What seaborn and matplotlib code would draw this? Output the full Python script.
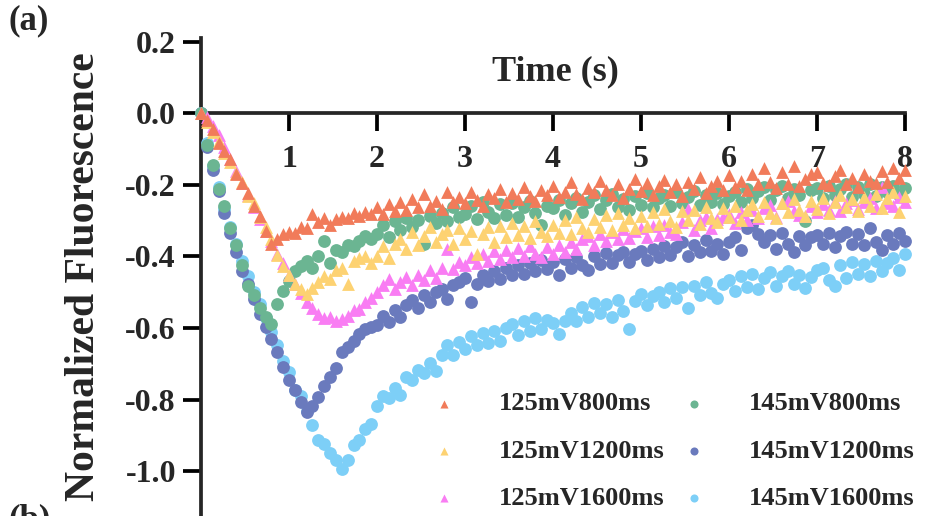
import numpy as np
import pandas as pd
import matplotlib
matplotlib.use("Agg")
import matplotlib.pyplot as plt
import seaborn as sns

# Sampling times (15 Hz over 8 s)
time_s = np.round(np.arange(121) / 15.0, 4)

# Normalized fluorescence traces
f_125_800 = [
    0.000, -0.020, -0.045, -0.082, -0.105, -0.128, -0.170, -0.196, -0.222, -0.258, -0.287, -0.330, -0.365,
    -0.352, -0.338, -0.331, -0.336, -0.318, -0.322, -0.281, -0.305, -0.292, -0.312, -0.296, -0.289, -0.294, -0.279, -0.286, -0.275, -0.281,
    -0.262, -0.281, -0.255, -0.274, -0.248, -0.271, -0.239, -0.262, -0.226, -0.258, -0.244, -0.268, -0.221, -0.249, -0.233,
    -0.251, -0.219, -0.242, -0.258, -0.227, -0.236, -0.212, -0.248, -0.224, -0.239, -0.205, -0.231, -0.246, -0.214, -0.228,
    -0.203, -0.234, -0.219, -0.192, -0.226, -0.241, -0.208, -0.221, -0.188, -0.215, -0.229, -0.197, -0.236, -0.211, -0.185,
    -0.218, -0.196, -0.229, -0.204, -0.187, -0.221, -0.199, -0.232, -0.193, -0.212, -0.178, -0.224, -0.203, -0.189, -0.215,
    -0.172, -0.206, -0.188, -0.214, -0.169, -0.197, -0.152, -0.191, -0.208, -0.165, -0.198, -0.148, -0.202, -0.184, -0.171,
    -0.163, -0.195, -0.201, -0.176, -0.158, -0.199, -0.182, -0.207, -0.169, -0.188, -0.196, -0.161, -0.192, -0.152, -0.181,
    -0.158,
]
f_125_1200 = [
    0.000, -0.025, -0.052, -0.078, -0.112, -0.135, -0.168, -0.192, -0.231, -0.252, -0.290, -0.318, -0.352, -0.395, -0.428, -0.452, -0.478, -0.492, -0.505,
    -0.488, -0.472, -0.455, -0.462, -0.438, -0.431, -0.476, -0.412, -0.405, -0.398, -0.419,
    -0.398, -0.372, -0.405, -0.366, -0.351, -0.379, -0.332, -0.368, -0.344, -0.319, -0.361, -0.337, -0.326, -0.364, -0.321,
    -0.352, -0.328, -0.392, -0.338, -0.319, -0.361, -0.315, -0.345, -0.308, -0.339, -0.316, -0.348, -0.302, -0.331, -0.343,
    -0.311, -0.335, -0.298, -0.338, -0.289, -0.321, -0.331, -0.296, -0.318, -0.285, -0.326, -0.279, -0.312, -0.294, -0.322,
    -0.286, -0.315, -0.276, -0.309, -0.268, -0.302, -0.318, -0.274, -0.298, -0.269, -0.309, -0.262, -0.292, -0.304, -0.266,
    -0.291, -0.258, -0.298, -0.269, -0.254, -0.288, -0.248, -0.279, -0.293, -0.251, -0.276, -0.239, -0.271, -0.286, -0.245,
    -0.268, -0.236, -0.278, -0.249, -0.229, -0.263, -0.241, -0.272, -0.233, -0.258, -0.227, -0.264, -0.238, -0.221, -0.276,
    -0.231,
]
f_125_1600 = [
    0.000, -0.012, -0.035, -0.062, -0.095, -0.128, -0.162, -0.195, -0.228, -0.262, -0.295, -0.328, -0.358, -0.392, -0.418, -0.452, -0.478, -0.502, -0.528, -0.545, -0.561, -0.572, -0.568, -0.579, -0.575,
    -0.566, -0.551, -0.547, -0.528, -0.515,
    -0.498, -0.481, -0.463, -0.492, -0.471, -0.458, -0.479, -0.451, -0.466, -0.438, -0.459, -0.431, -0.378, -0.436, -0.415,
    -0.425, -0.401, -0.418, -0.392, -0.413, -0.386, -0.407, -0.381, -0.402, -0.377, -0.398, -0.371, -0.392, -0.401, -0.375,
    -0.394, -0.368, -0.387, -0.359, -0.378, -0.352, -0.343, -0.367, -0.338, -0.358, -0.331, -0.352, -0.324, -0.348, -0.329,
    -0.321, -0.347, -0.315, -0.339, -0.311, -0.333, -0.337, -0.305, -0.268, -0.326, -0.298, -0.291, -0.321, -0.296, -0.289,
    -0.281, -0.306, -0.276, -0.298, -0.269, -0.293, -0.265, -0.256, -0.289, -0.251, -0.245, -0.272, -0.284, -0.288, -0.259,
    -0.276, -0.253, -0.269, -0.246, -0.273, -0.251, -0.243, -0.268, -0.249, -0.238, -0.266, -0.205, -0.252, -0.258, -0.233,
    -0.247,
]
f_145_800 = [
    0.000, -0.088, -0.146, -0.212, -0.258, -0.322, -0.368, -0.425, -0.482, -0.508, -0.545, -0.568, -0.590,
    -0.532, -0.497, -0.468, -0.442, -0.426, -0.412, -0.431, -0.398, -0.358, -0.418, -0.381, -0.389, -0.368, -0.372, -0.356, -0.342, -0.351,
    -0.338, -0.312, -0.345, -0.301, -0.326, -0.292, -0.319, -0.298, -0.364, -0.286, -0.307, -0.278, -0.301, -0.262, -0.289,
    -0.281, -0.258, -0.296, -0.249, -0.277, -0.294, -0.255, -0.283, -0.251, -0.289, -0.262, -0.245, -0.279, -0.312, -0.258,
    -0.266, -0.242, -0.283, -0.251, -0.236, -0.275, -0.248, -0.229, -0.268, -0.243, -0.227, -0.262, -0.239, -0.271, -0.231,
    -0.256, -0.224, -0.263, -0.238, -0.229, -0.259, -0.221, -0.252, -0.235, -0.218, -0.257, -0.229, -0.248, -0.222, -0.254,
    -0.231, -0.219, -0.248, -0.211, -0.238, -0.216, -0.206, -0.243, -0.214, -0.203, -0.236, -0.212, -0.229, -0.302, -0.215,
    -0.209, -0.236, -0.204, -0.229, -0.213, -0.198, -0.234, -0.207, -0.225, -0.199, -0.232, -0.206, -0.221, -0.203, -0.228,
    -0.209,
]
f_145_1200 = [
    0.000, -0.095, -0.158, -0.218, -0.278, -0.335, -0.388, -0.442, -0.478, -0.518, -0.562, -0.598, -0.632, -0.668, -0.708, -0.746, -0.772, -0.808, -0.835,
    -0.818, -0.792, -0.761, -0.738, -0.712, -0.668, -0.652, -0.636, -0.618, -0.604, -0.596,
    -0.592, -0.566, -0.584, -0.551, -0.569, -0.535, -0.522, -0.543, -0.508, -0.528, -0.499, -0.491, -0.518, -0.479, -0.472,
    -0.461, -0.526, -0.478, -0.451, -0.469, -0.441, -0.462, -0.432, -0.453, -0.425, -0.448, -0.418, -0.442, -0.411, -0.435,
    -0.415, -0.452, -0.408, -0.433, -0.401, -0.425, -0.438, -0.398, -0.421, -0.391, -0.418, -0.395, -0.388, -0.415, -0.392,
    -0.385, -0.411, -0.378, -0.403, -0.371, -0.396, -0.375, -0.361, -0.398, -0.368, -0.388, -0.355, -0.386, -0.364, -0.393,
    -0.361, -0.345, -0.381, -0.322, -0.312, -0.338, -0.359, -0.341, -0.378, -0.336, -0.365, -0.388, -0.342, -0.369, -0.347,
    -0.341, -0.366, -0.335, -0.373, -0.344, -0.331, -0.364, -0.338, -0.369, -0.322, -0.361, -0.381, -0.339, -0.365, -0.334,
    -0.358,
]
f_145_1600 = [
    0.000, -0.082, -0.148, -0.205, -0.268, -0.318, -0.365, -0.412, -0.455, -0.498, -0.532, -0.572, -0.612, -0.648, -0.691, -0.722, -0.772, -0.791, -0.832, -0.872, -0.912, -0.925, -0.948, -0.968, -0.995,
    -0.968, -0.928, -0.912, -0.882, -0.868,
    -0.818, -0.789, -0.796, -0.768, -0.788, -0.736, -0.744, -0.716, -0.726, -0.698, -0.719, -0.676, -0.648, -0.675, -0.638,
    -0.659, -0.621, -0.648, -0.615, -0.641, -0.608, -0.635, -0.601, -0.589, -0.619, -0.581, -0.609, -0.572, -0.603, -0.578,
    -0.585, -0.618, -0.579, -0.558, -0.581, -0.541, -0.568, -0.531, -0.559, -0.534, -0.569, -0.521, -0.552, -0.604, -0.525,
    -0.505, -0.535, -0.511, -0.498, -0.528, -0.489, -0.515, -0.485, -0.545, -0.482, -0.509, -0.471, -0.502, -0.515, -0.477,
    -0.465, -0.496, -0.455, -0.485, -0.449, -0.492, -0.461, -0.444, -0.483, -0.455, -0.441, -0.478, -0.452, -0.489, -0.458,
    -0.439, -0.431, -0.465, -0.482, -0.424, -0.459, -0.415, -0.448, -0.421, -0.454, -0.412, -0.442, -0.419, -0.405, -0.438,
    -0.392,
]

labels = ["125mV800ms", "125mV1200ms", "125mV1600ms",
          "145mV800ms", "145mV1200ms", "145mV1600ms"]
traces = [f_125_800, f_125_1200, f_125_1600, f_145_800, f_145_1200, f_145_1600]
colors = ["#F17B5A", "#FDD272", "#F97DF3", "#6BB592", "#6A7ABD", "#7DCFF7"]
markers = ["^", "^", "^", "o", "o", "o"]

yticks = [0.2, 0.0, -0.2, -0.4, -0.6, -0.8, -1.0]
xticks = [1, 2, 3, 4, 5, 6, 7, 8]

sns.set_style("ticks")
plt.rcParams["font.family"] = ["Liberation Serif", "DejaVu Serif"]
plt.rcParams["font.weight"] = "bold"
plt.rcParams["axes.unicode_minus"] = False

fig = plt.figure(figsize=(9.26, 5.16), dpi=100)
ax = fig.add_axes([201 / 926, 0.0, 704 / 926, 478 / 516])

frame = pd.DataFrame({
    "time": np.tile(time_s, len(labels)),
    "value": np.concatenate([np.asarray(v, dtype=float) for v in traces]),
    "group": np.repeat(labels, len(time_s)),
})

# circles first, then triangles on top
draw_order = [5, 4, 3, 2, 1, 0]
for k in draw_order:
    sub = frame[frame["group"] == labels[k]]
    sns.scatterplot(data=sub, x="time", y="value", ax=ax, marker=markers[k],
                    color=colors[k], s=85, linewidth=0, label=labels[k],
                    zorder=3, clip_on=False, legend=True)

ax.set_xlim(0, 8)
ax.set_ylim(-1.125, 0.21)
ax.spines["top"].set_visible(False)
ax.spines["right"].set_visible(False)
ax.spines["bottom"].set_position(("data", 0))
for sp in ("left", "bottom"):
    ax.spines[sp].set_linewidth(2.7)
ax.set_xticks(xticks)
ax.set_yticks(yticks)
ax.set_yticklabels([f"{v:.1f}" for v in yticks])
ax.tick_params(axis="both", direction="out", length=13, width=2.7,
               labelsize=23, color="black")
ax.tick_params(axis="x", pad=10)
ax.tick_params(axis="y", pad=5)
for lab in ax.get_xticklabels() + ax.get_yticklabels():
    lab.set_fontweight("bold")

ax.set_xlabel("")
ax.set_ylabel("Normalized Fluorescence", fontsize=30, fontweight="bold")
ax.yaxis.set_label_coords(-0.139, 0.5)

ax.text(0.503, 0.929, "Time (s)", transform=ax.transAxes, ha="center",
        va="center", fontsize=26, fontweight="bold")

fig.text(8 / 926, 1 - 21 / 516, "(a)", ha="left", va="center",
         fontsize=25, fontweight="bold")
fig.text(8 / 926, 1 - 503 / 516, "(b)", ha="left", va="top",
         fontsize=25, fontweight="bold")

handles, labs = ax.get_legend_handles_labels()
lookup = dict(zip(labs, handles))
ax.legend([lookup[l] for l in labels], labels, ncol=2, frameon=False,
          loc="upper left", bbox_to_anchor=(433 / 926, 1 - 392 / 516),
          bbox_transform=fig.transFigure, borderaxespad=0, borderpad=0,
          prop={"family": "Liberation Serif", "weight": "bold", "size": 19},
          markerscale=0.63, handlelength=0.8, handletextpad=1.7,
          columnspacing=0.7, labelspacing=0.9)

fig.savefig("out.png", dpi=100)
